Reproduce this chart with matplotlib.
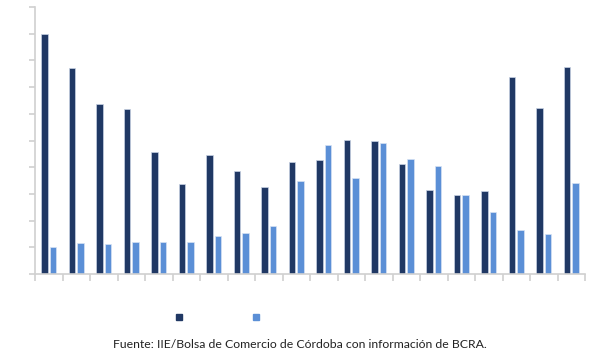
import numpy as np
import matplotlib.pyplot as plt
from matplotlib.lines import Line2D

# valores (escala sin etiquetas, 0-10)
serie_1 = [9.0, 7.72, 6.37, 6.18, 4.57, 3.37, 4.46, 3.86, 3.26, 4.19,
           4.27, 5.02, 4.98, 4.12, 3.15, 2.96, 3.11, 7.38, 6.22, 7.75]
serie_2 = [1.01, 1.16, 1.12, 1.20, 1.20, 1.20, 1.42, 1.54, 1.80, 3.48,
           4.83, 3.60, 4.91, 4.31, 4.04, 2.96, 2.32, 1.65, 1.50, 3.41]
fuente = "Fuente: IIE/Bolsa de Comercio de Córdoba con información de BCRA."

oscuro = "#203864"
claro = "#5b8fd6"
gris = "#d0d0d0"

fig = plt.figure(figsize=(6.09, 3.59), dpi=100)
ax = fig.add_axes([35 / 609, 1 - 274 / 359, 550 / 609, 267 / 359])

x = np.arange(len(serie_1))
w = 0.24
ax.bar(x - 0.03 - w / 2, serie_1, w, color=oscuro, edgecolor="#c8d2e4", linewidth=0.5)
ax.bar(x + 0.03 + w / 2, serie_2, w, color=claro, edgecolor="#d6e2f4", linewidth=0.5)

ax.set_xlim(-0.5, len(x) - 0.5)
ax.set_ylim(0, 10)
ax.set_yticks(np.arange(0, 11, 1))
ax.set_xticks(np.arange(-0.5, len(x) + 0.5, 1))
ax.set_yticklabels([])
ax.set_xticklabels([])
ax.tick_params(axis="both", direction="out", color=gris, width=1.2, length=4)
ax.tick_params(axis="x", length=5)
for s in ["top", "right"]:
    ax.spines[s].set_visible(False)
for s in ["left", "bottom"]:
    ax.spines[s].set_color(gris)
    ax.spines[s].set_linewidth(1.2)

h1 = Line2D([], [], marker="s", color=oscuro, linestyle="none", markersize=4.5)
h2 = Line2D([], [], marker="s", color=claro, linestyle="none", markersize=4.5)
fig.legend([h1, h2], [" ", " "], ncol=2, frameon=False, loc="center",
           bbox_to_anchor=(220 / 609, 1 - 318 / 359), handlelength=0.8,
           columnspacing=5.6, handletextpad=0.2, fontsize=8)

fig.text(0.493, 1 - 344 / 359, fuente, ha="center", va="center",
         fontsize=8.8, family="Lato", color="#222222")

fig.savefig("out.png", dpi=100)
